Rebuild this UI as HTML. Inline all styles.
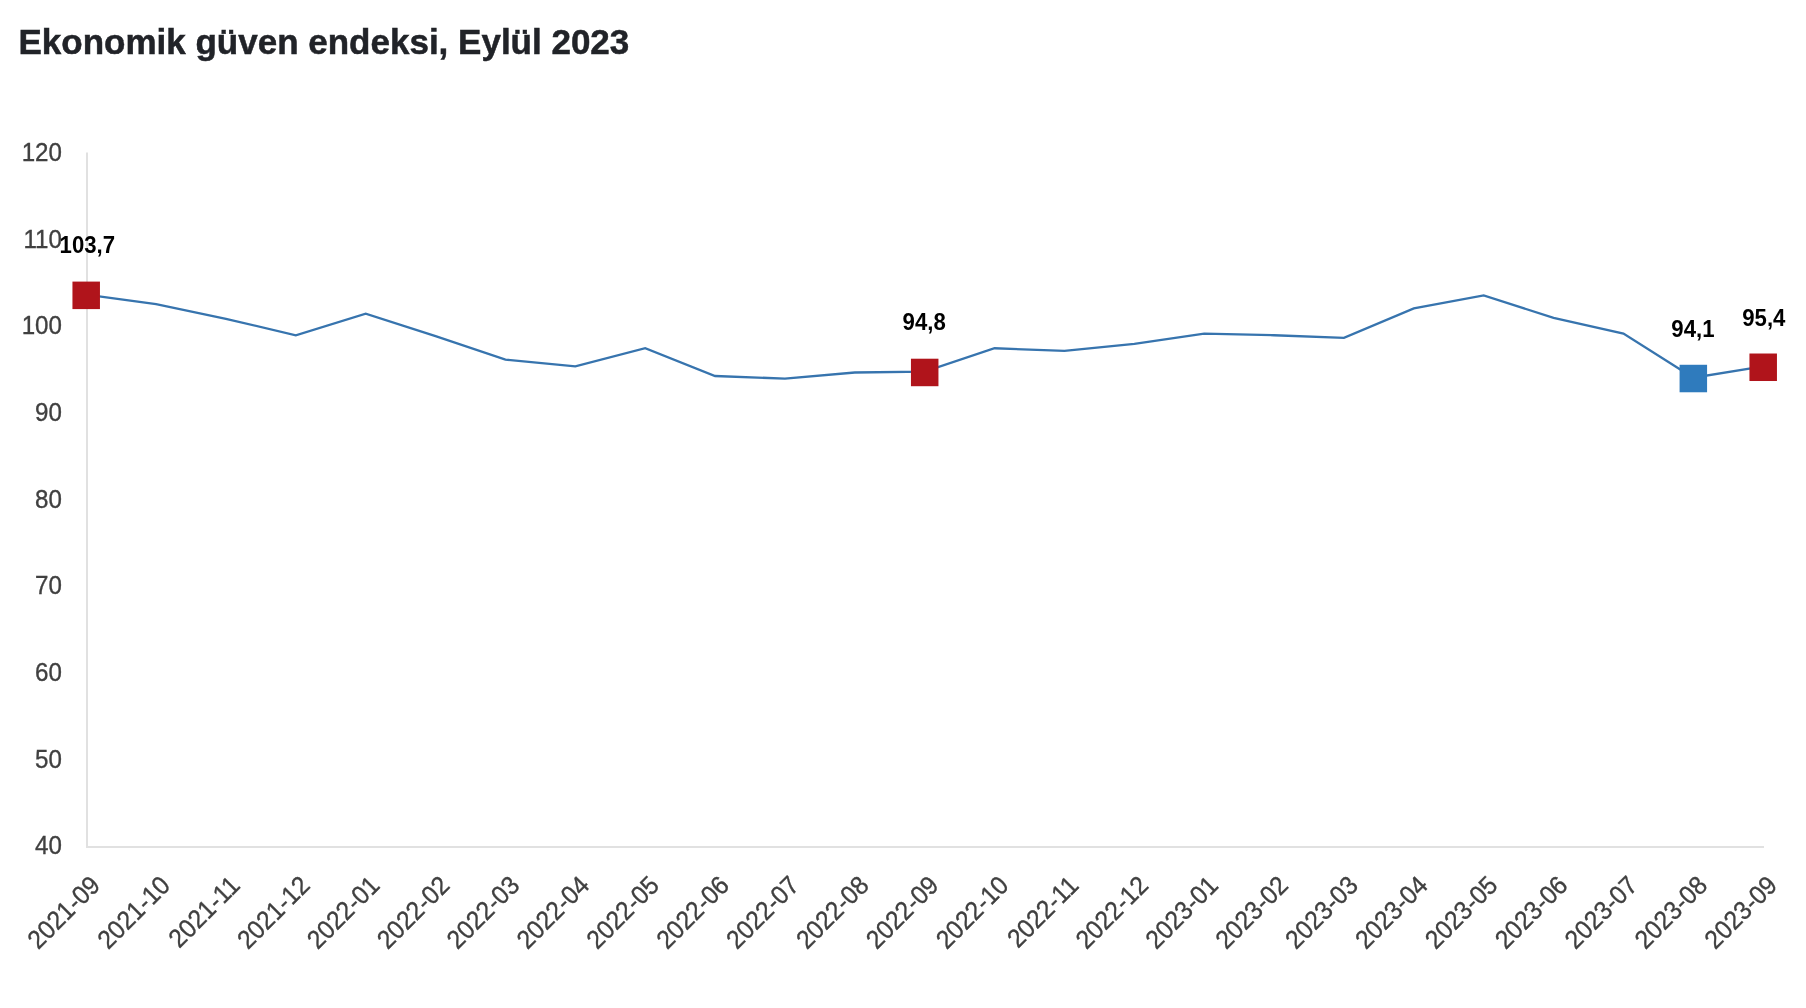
<!DOCTYPE html>
<html><head><meta charset="utf-8"><style>
html,body{margin:0;padding:0;background:#fff;width:1806px;height:1008px;overflow:hidden}
svg{position:absolute;left:0;top:0;will-change:transform}
.t{font-family:"Liberation Sans",sans-serif;font-weight:bold;font-size:35px;fill:#212328;stroke:#212328;stroke-width:0.5px}
.yl{font-family:"Liberation Sans",sans-serif;font-size:26px;fill:#404040;stroke:#404040;stroke-width:0.35px}
.xl{font-family:"Liberation Sans",sans-serif;font-size:26px;fill:#404040;stroke:#404040;stroke-width:0.35px}
.dl{font-family:"Liberation Sans",sans-serif;font-size:23.6px;font-weight:bold;fill:#000}
</style></head><body>
<svg width="1806" height="1008" viewBox="0 0 1806 1008">
<text x="18.5" y="54" class="t">Ekonomik güven endeksi, Eylül 2023</text>
<rect x="86" y="152.5" width="2" height="695.5" fill="#e1e1e1"/>
<rect x="86" y="846" width="1678" height="2" fill="#e1e1e1"/>
<text transform="translate(62,854.3) scale(0.93,1)" text-anchor="end" class="yl">40</text>
<text transform="translate(62,767.6) scale(0.93,1)" text-anchor="end" class="yl">50</text>
<text transform="translate(62,681.0) scale(0.93,1)" text-anchor="end" class="yl">60</text>
<text transform="translate(62,594.4) scale(0.93,1)" text-anchor="end" class="yl">70</text>
<text transform="translate(62,507.7) scale(0.93,1)" text-anchor="end" class="yl">80</text>
<text transform="translate(62,421.0) scale(0.93,1)" text-anchor="end" class="yl">90</text>
<text transform="translate(62,334.4) scale(0.93,1)" text-anchor="end" class="yl">100</text>
<text transform="translate(62,247.8) scale(0.93,1)" text-anchor="end" class="yl">110</text>
<text transform="translate(62,161.1) scale(0.93,1)" text-anchor="end" class="yl">120</text>
<polyline points="86.20,294.54 156.07,304.07 225.95,318.80 295.82,335.26 365.70,313.60 435.57,336.13 505.45,359.53 575.33,366.46 645.20,348.26 715.08,375.99 784.95,378.59 854.83,372.52 924.70,371.66 994.58,348.26 1064.45,350.86 1134.33,343.93 1204.20,333.53 1274.08,335.26 1343.95,337.86 1413.83,308.40 1483.70,295.41 1553.58,317.94 1623.45,333.53 1693.33,377.72 1763.20,366.46" fill="none" stroke="#3774ae" stroke-width="2.3" stroke-linejoin="miter"/>
<rect x="72.45" y="281.59" width="27.5" height="27.5" fill="#b0141b"/>
<rect x="910.95" y="358.71" width="27.5" height="27.5" fill="#b0141b"/>
<rect x="1679.58" y="364.77" width="27.5" height="27.5" fill="#2f7bbd"/>
<rect x="1749.45" y="353.51" width="27.5" height="27.5" fill="#b0141b"/>
<text transform="translate(87.3,252.7) scale(0.94,1)" text-anchor="middle" class="dl">103,7</text>
<text transform="translate(924.2,330.0) scale(0.94,1)" text-anchor="middle" class="dl">94,8</text>
<text transform="translate(1692.9,337.0) scale(0.94,1)" text-anchor="middle" class="dl">94,1</text>
<text transform="translate(1763.8,325.5) scale(0.94,1)" text-anchor="middle" class="dl">95,4</text>
<text transform="translate(101.7,886.9) rotate(-45) scale(0.94,1)" text-anchor="end" class="xl">2021-09</text>
<text transform="translate(171.6,886.9) rotate(-45) scale(0.94,1)" text-anchor="end" class="xl">2021-10</text>
<text transform="translate(241.4,886.9) rotate(-45) scale(0.94,1)" text-anchor="end" class="xl">2021-11</text>
<text transform="translate(311.3,886.9) rotate(-45) scale(0.94,1)" text-anchor="end" class="xl">2021-12</text>
<text transform="translate(381.2,886.9) rotate(-45) scale(0.94,1)" text-anchor="end" class="xl">2022-01</text>
<text transform="translate(451.1,886.9) rotate(-45) scale(0.94,1)" text-anchor="end" class="xl">2022-02</text>
<text transform="translate(521.0,886.9) rotate(-45) scale(0.94,1)" text-anchor="end" class="xl">2022-03</text>
<text transform="translate(590.8,886.9) rotate(-45) scale(0.94,1)" text-anchor="end" class="xl">2022-04</text>
<text transform="translate(660.7,886.9) rotate(-45) scale(0.94,1)" text-anchor="end" class="xl">2022-05</text>
<text transform="translate(730.6,886.9) rotate(-45) scale(0.94,1)" text-anchor="end" class="xl">2022-06</text>
<text transform="translate(800.5,886.9) rotate(-45) scale(0.94,1)" text-anchor="end" class="xl">2022-07</text>
<text transform="translate(870.3,886.9) rotate(-45) scale(0.94,1)" text-anchor="end" class="xl">2022-08</text>
<text transform="translate(940.2,886.9) rotate(-45) scale(0.94,1)" text-anchor="end" class="xl">2022-09</text>
<text transform="translate(1010.1,886.9) rotate(-45) scale(0.94,1)" text-anchor="end" class="xl">2022-10</text>
<text transform="translate(1080.0,886.9) rotate(-45) scale(0.94,1)" text-anchor="end" class="xl">2022-11</text>
<text transform="translate(1149.8,886.9) rotate(-45) scale(0.94,1)" text-anchor="end" class="xl">2022-12</text>
<text transform="translate(1219.7,886.9) rotate(-45) scale(0.94,1)" text-anchor="end" class="xl">2023-01</text>
<text transform="translate(1289.6,886.9) rotate(-45) scale(0.94,1)" text-anchor="end" class="xl">2023-02</text>
<text transform="translate(1359.5,886.9) rotate(-45) scale(0.94,1)" text-anchor="end" class="xl">2023-03</text>
<text transform="translate(1429.3,886.9) rotate(-45) scale(0.94,1)" text-anchor="end" class="xl">2023-04</text>
<text transform="translate(1499.2,886.9) rotate(-45) scale(0.94,1)" text-anchor="end" class="xl">2023-05</text>
<text transform="translate(1569.1,886.9) rotate(-45) scale(0.94,1)" text-anchor="end" class="xl">2023-06</text>
<text transform="translate(1639.0,886.9) rotate(-45) scale(0.94,1)" text-anchor="end" class="xl">2023-07</text>
<text transform="translate(1708.8,886.9) rotate(-45) scale(0.94,1)" text-anchor="end" class="xl">2023-08</text>
<text transform="translate(1778.7,886.9) rotate(-45) scale(0.94,1)" text-anchor="end" class="xl">2023-09</text>
</svg>
</body></html>
